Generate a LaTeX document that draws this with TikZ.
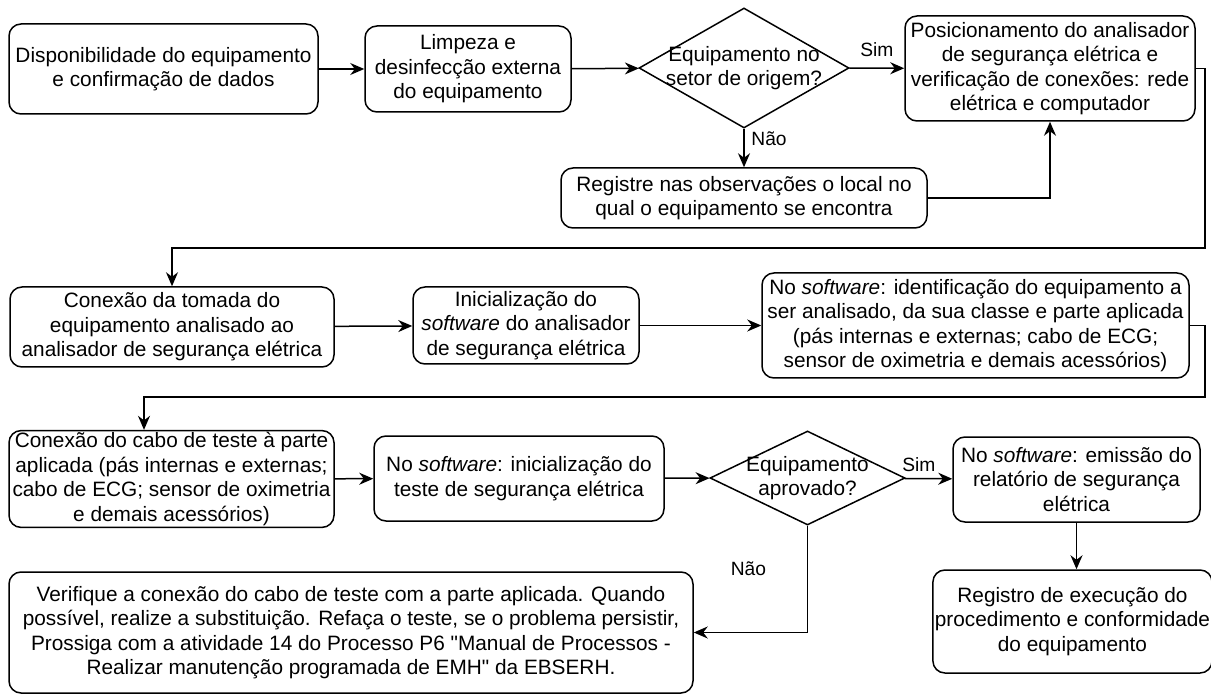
\documentclass[tikz,border=0pt]{standalone}
\usepackage{fontspec}
\setmainfont{Liberation Sans}
\newfontfamily\reto{Liberation Sans}
\usepackage{tikz}
\usetikzlibrary{arrows.meta,shapes.geometric,positioning}

\tikzset{
    caixa/.style={draw, rounded corners=6pt, line width=0.75pt, align=center,
        inner sep=1pt, font=\fontsize{10.4}{12.2}\selectfont},
    losango/.style={draw, diamond, line width=0.75pt, inner sep=0pt},
    texto/.style={align=center, inner sep=0pt, font=\fontsize{10.4}{12.2}\selectfont},
    rotulo/.style={font=\fontsize{9.6}{11}\selectfont},
    fluxo/.style={line width=0.75pt, -{Stealth[length=7pt,width=6pt]}}
}

\begin{document}
\begin{tikzpicture}[x=0.5pt,y=-0.5pt]
    \useasboundingbox (0,0) rectangle (1211,695);

    % First row
    % ---------------------
    \node[caixa, minimum width=154.5pt, minimum height=45pt] (disp) at (163.5,69)
        {Disponibilidade do equipamento\\e confirmação de dados};
    \node[caixa, minimum width=103pt, minimum height=43pt] (limp) at (468,69)
        {Limpeza e\\desinfecção externa\\do equipamento};
    \node[losango, minimum width=105pt, minimum height=60pt,
        label={[texto]center:{Equipamento no\\setor de origem?}}] (setor) at (744,68) {};
    \node[caixa, minimum width=145pt, minimum height=52.5pt] (posi) at (1050,68.5)
        {Posicionamento do analisador\\de segurança elétrica e\\verificação de conexões: rede\\elétrica e computador};
    \node[caixa, minimum width=183pt, minimum height=30pt] (regi) at (744,198)
        {Registre nas observações o local no\\qual o equipamento se encontra};

    \draw[fluxo] (disp) -- (limp);
    \draw[fluxo] (limp) -- (setor);
    \draw[fluxo] (setor) -- node[rotulo, above, yshift=2pt] {Sim} (posi);
    \draw[fluxo] (setor) -- node[rotulo, right, pos=0.25] {Não} (regi);
    \draw[fluxo] (regi.east) -| (posi.south);

    % Second row
    % ---------------------
    \node[caixa, minimum width=162pt, minimum height=40pt] (toma) at (172,327)
        {Conexão da tomada do\\equipamento analisado ao\\analisador de segurança elétrica};
    \node[caixa, minimum width=113pt, minimum height=38.5pt] (inic) at (526,325.5)
        {Inicialização do\\\textit{software} do analisador\\de segurança elétrica};
    \node[caixa, minimum width=213.5pt, minimum height=52.5pt] (iden) at (975.5,325.5)
        {No \textit{software}: identificação do equipamento a\\ser analisado, da sua classe e parte aplicada\\(pás internas e externas; cabo de ECG;\\sensor de oximetria e demais acessórios)};

    \coordinate (volta1) at (1205,248);
    \draw[fluxo] (posi.east) -| (volta1) -| (toma.north);
    \draw[fluxo] (toma) -- (inic);
    \draw[fluxo] (inic) -- (iden);

    % Third row
    % ---------------------
    \node[caixa, minimum width=162.5pt, minimum height=48pt] (cabo) at (171.5,479)
        {Conexão do cabo de teste à parte\\aplicada (pás internas e externas;\\cabo de ECG; sensor de oximetria\\e demais acessórios)};
    \node[caixa, minimum width=145pt, minimum height=42.5pt] (test) at (519,478.5)
        {No \textit{software}: inicialização do\\teste de segurança elétrica};
    \node[losango, minimum width=97.5pt, minimum height=47pt,
        label={[texto]center:{Equipamento\\aprovado?}}] (aprov) at (807.5,478) {};
    \node[caixa, minimum width=123.5pt, minimum height=42.5pt] (emis) at (1076.5,479.5)
        {No \textit{software}: emissão do\\relatório de segurança\\elétrica};

    \coordinate (volta2) at (1205,397);
    \coordinate (desce) at (144,397);
    \draw[fluxo] (iden.east) -| (volta2) -- (desce) -- (desce |- cabo.north);
    \draw[fluxo] (cabo) -- (test);
    \draw[fluxo] (test) -- (aprov);
    \draw[fluxo] (aprov) -- node[rotulo, above, pos=0.3] {Sim} (emis);

    % Last row
    % ---------------------
    \node[caixa, minimum width=342pt, minimum height=60.5pt] (veri) at (351,632.5)
        {Verifique a conexão do cabo de teste com a parte aplicada. Quando\\possível, realize a substituição. Refaça o teste, se o problema persistir,\\Prossiga com a atividade 14 do Processo P6 {\reto"}Manual de Processos -\\Realizar manutenção programada de EMH{\reto"} da EBSERH.};
    \node[caixa, minimum width=137.5pt, minimum height=51.5pt] (regx) at (1072.5,621.5)
        {Registro de execução do\\procedimento e conformidade\\do equipamento};

    \draw[fluxo] (aprov.south) |- node[rotulo, pos=0.2, left=17pt] {Não} (veri.east);
    \draw[fluxo] (emis.south) -- (emis.south |- regx.north);
\end{tikzpicture}
\end{document}
